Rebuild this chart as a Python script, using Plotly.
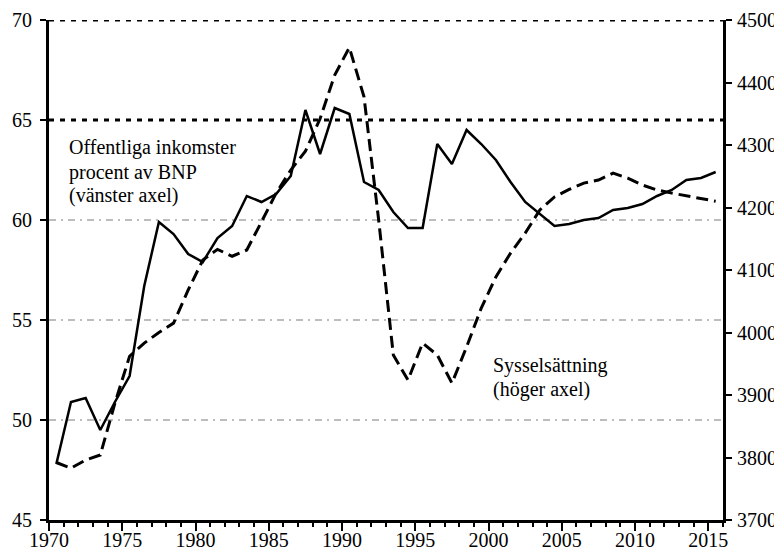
import plotly.graph_objects as go

years = list(range(1970, 2016))

inkomster = [47.8, 50.9, 51.1, 49.5, 50.9, 52.2, 56.7, 59.9, 59.3, 58.3,
             57.9, 59.1, 59.7, 61.2, 60.9, 61.3, 62.2, 65.5, 63.3, 65.6,
             65.3, 61.9, 61.5, 60.4, 59.6, 59.6, 63.8, 62.8, 64.5, 63.8,
             63.0, 61.9, 60.9, 60.3, 59.7, 59.8, 60.0, 60.1, 60.5, 60.6,
             60.8, 61.2, 61.5, 62.0, 62.1, 62.4]

syssel = [3792, 3783, 3796, 3804, 3887, 3962, 3983, 4000, 4015, 4068,
          4116, 4133, 4122, 4132, 4177, 4223, 4260, 4290, 4342, 4412,
          4456, 4377, 4180, 3964, 3924, 3983, 3964, 3919, 3977, 4039,
          4089, 4127, 4159, 4196, 4217, 4229, 4239, 4244, 4255, 4247,
          4236, 4228, 4223, 4219, 4215, 4210]

x_ticks = [1970, 1975, 1980, 1985, 1990, 1995, 2000, 2005, 2010, 2015]
left_ticks = [45, 50, 55, 60, 65, 70]
right_ticks = [3700, 3800, 3900, 4000, 4100, 4200, 4300, 4400, 4500]
grid_thick = [65, 70]
grid_thin = [50, 55, 60]

label_left = ["Offentliga inkomster", "procent av BNP", "(vänster axel)"]
label_right = ["Sysselsättning", "(höger axel)"]

FONT = "Liberation Serif"

xpos = [y + 0.5 for y in years]

fig = go.Figure()

shapes = []
for g in grid_thin:
    shapes.append(dict(type="line", xref="paper", yref="y", x0=0, x1=1, y0=g, y1=g,
                       line=dict(color="#7a7a7a", width=1, dash="7px,5px,2px,5px"),
                       layer="below"))
for g in grid_thick:
    shapes.append(dict(type="line", xref="paper", yref="y", x0=0, x1=1, y0=g, y1=g,
                       line=dict(color="black", width=3, dash="5px,6px"),
                       layer="below"))

fig.add_trace(go.Scatter(x=xpos, y=inkomster, mode="lines", yaxis="y",
                         line=dict(color="black", width=2.5), showlegend=False))
fig.add_trace(go.Scatter(x=xpos, y=syssel, mode="lines", yaxis="y2",
                         line=dict(color="black", width=3, dash="12px,6px"),
                         showlegend=False))

annotations = []
ly = [0.746, 0.696, 0.650]
for t, yy in zip(label_left, ly):
    annotations.append(dict(text=t, xref="paper", yref="paper", x=0.026, y=yy,
                            xanchor="left", yanchor="middle", showarrow=False,
                            font=dict(family=FONT, size=20, color="black")))
ry = [0.310, 0.262]
for t, yy in zip(label_right, ry):
    annotations.append(dict(text=t, xref="paper", yref="paper", x=0.656, y=yy,
                            xanchor="left", yanchor="middle", showarrow=False,
                            font=dict(family=FONT, size=20, color="black")))

axis_common = dict(showgrid=False, zeroline=False, showline=True, linecolor="black",
                   linewidth=3, ticks="outside", tickwidth=2, tickcolor="black",
                   tickfont=dict(family=FONT, size=20, color="black"), automargin=False)

fig.update_layout(
    width=774, height=543,
    margin=dict(l=41, r=59, t=12, b=31, autoexpand=False),
    paper_bgcolor="white", plot_bgcolor="white",
    font=dict(family=FONT, size=20, color="black"),
    shapes=shapes, annotations=annotations,
    xaxis=dict(range=[1970, 2016], tickmode="array", tickvals=x_ticks, ticklen=8,
               minor=dict(dtick=1, tick0=1970, ticks="outside", ticklen=4, tickwidth=2,
                          tickcolor="black", showgrid=False),
               ticklabelstandoff=-8, **axis_common),
    yaxis=dict(range=[45, 70], tickmode="array", tickvals=left_ticks, ticklen=6,
               ticklabelstandoff=4, **axis_common),
    yaxis2=dict(range=[3700, 4500], tickmode="array", tickvals=right_ticks,
                overlaying="y", side="right", ticklen=6,
                ticklabelstandoff=1, **axis_common),
)

fig.write_html("out.html")
